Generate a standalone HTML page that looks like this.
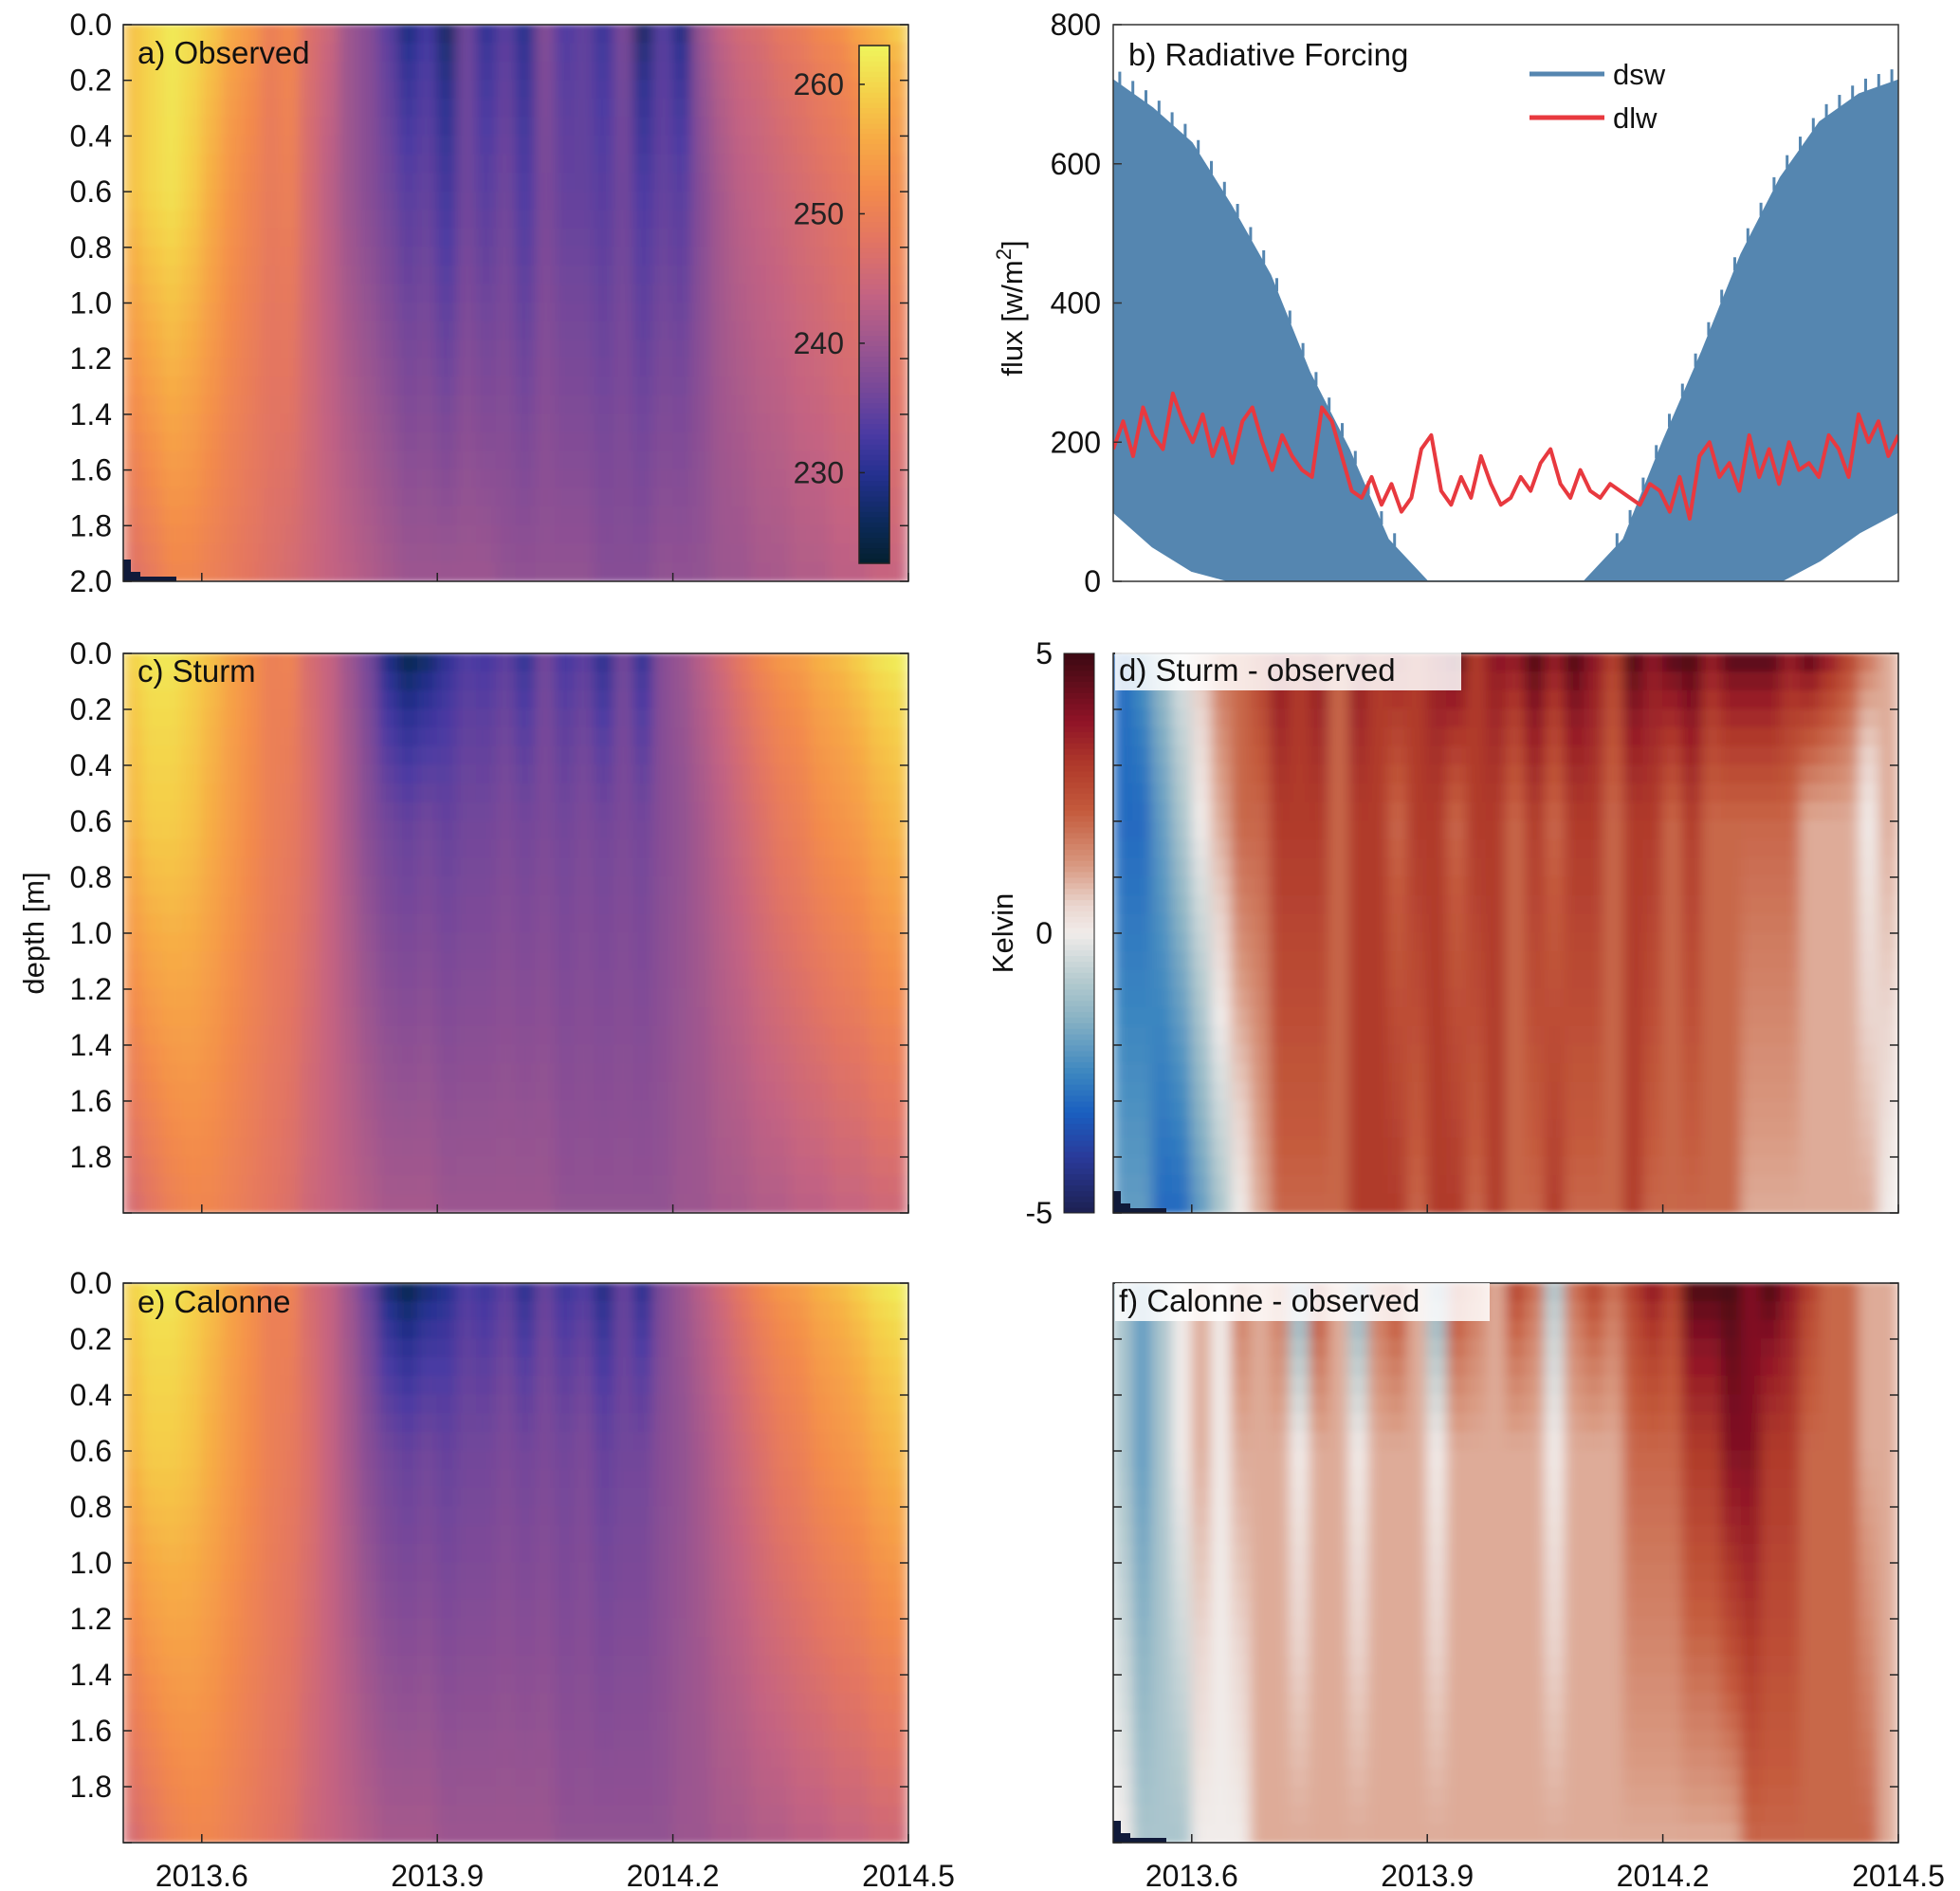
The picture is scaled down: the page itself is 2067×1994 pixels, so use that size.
<!DOCTYPE html>
<html><head><meta charset="utf-8"><style>
html,body{margin:0;padding:0;background:#fff;}
svg{display:block;font-family:"Liberation Sans",Arial,sans-serif;}
</style></head><body>
<svg id="fig" width="2067" height="1994" viewBox="0 0 2067 1994" xmlns="http://www.w3.org/2000/svg">
<defs>
<filter id="blur" x="0" y="0" width="1" height="1"><feGaussianBlur stdDeviation="7 3" edgeMode="duplicate"/></filter>
<clipPath id="clipA"><rect x="130" y="26" width="828" height="587"/></clipPath>
<clipPath id="clipC"><rect x="130" y="689" width="828" height="590"/></clipPath>
<clipPath id="clipE"><rect x="130" y="1353" width="828" height="590"/></clipPath>
<clipPath id="clipD"><rect x="1174" y="689" width="828" height="590"/></clipPath>
<clipPath id="clipF"><rect x="1174" y="1353" width="828" height="590"/></clipPath>
<clipPath id="clipB"><rect x="1174" y="26" width="828" height="587"/></clipPath>
</defs>
</svg>
<script>
// ---------- data ----------
const timeDomain = [2013.5, 2014.5];
const depthDomain = [0, 2];
const xTickValues = [2013.6, 2013.9, 2014.2, 2014.5];
const xTickLabels = ["2013.6", "2013.9", "2014.2", "2014.5"];
const depthTicks = [0,0.2,0.4,0.6,0.8,1.0,1.2,1.4,1.6,1.8,2.0];
const depthTickLabels = ["0.0","0.2","0.4","0.6","0.8","1.0","1.2","1.4","1.6","1.8","2.0"];
const tempTicks = [260,250,240,230];
const tempRange = [223, 263];
const diffRange = [-5, 5];
const fluxTicks = [0,200,400,600,800];

const obsSurf = [258,260,262,261,259,256,254,250,252,247,245,240,238,234,228,232,226,236,230,234,229,238,233,235,231,237,226,234,228,240,244,246,247,249,250,252,253,256,258,260];
const obsMid  = [258,260,261,259,256,253,251,249,250,246,243,240,238,236,234,235,232,236,234,236,233,237,235,235,234,236,233,235,234,238,241,243,244,245,246,247,248,249,250,252];
const obsBot  = [247,249,251,251,250,249,248,247,246,245,244,243,242,241,240,240,240,240,240,239,239,239,239,239,238,238,238,239,239,239,240,240,241,241,242,242,243,243,244,244];

const sturmSurf = [260,262,262,260,258,255,253,250,251,246,244,240,236,228,224,226,230,233,232,234,230,236,232,234,229,236,230,238,240,243,246,249,252,254,255,257,258,260,262,263];
const sturmMid  = [257,259,259,258,256,254,252,250,249,247,244,241,238,236,235,236,235,236,236,237,236,237,236,237,236,237,236,238,239,241,243,245,247,249,250,252,253,254,256,257];
const sturmBot  = [246,248,250,251,251,250,249,248,247,245,244,243,242,241,241,241,240,240,240,240,240,240,239,239,239,239,239,239,240,240,241,241,242,242,243,243,244,244,245,245];

const calSurf = [260,262,262,260,258,255,253,250,251,246,244,240,235,227,224,227,229,233,231,234,229,235,231,233,228,235,229,237,240,243,246,249,252,254,255,257,258,260,262,263];
const calMid  = [257,259,259,258,256,254,252,250,249,247,244,241,238,236,235,236,235,236,236,237,236,237,236,237,235,236,236,238,239,241,243,245,247,249,250,252,253,254,256,257];
const calBot  = [246,248,250,251,251,250,249,248,247,245,244,243,242,241,241,241,240,240,240,240,240,240,239,239,239,239,239,239,240,240,241,241,242,242,243,243,244,244,245,245];

const dSurf = [-3,-2,-1,0,1,2,2,3,4,3,4,2,4,3,4,3,4,5,3,4,4,5,4,5,4,3,5,4,5,5,4,5,5,5,4,5,4,3,2,1];
const dMid  = [-3,-3,-2,-1,0,1,2,2,3,3,3,2,3,3,2,3,3,2,3,3,2,3,2,3,3,2,3,3,2,3,2,2,2,2,2,1,1,1,0,1];
const dBot  = [-2,-2,-3,-3,-2,-1,0,1,2,2,2,2,3,3,3,2,3,3,2,3,2,2,3,2,2,2,3,2,2,2,2,2,1,1,1,1,1,1,1,0];

const fSurf = [-1,-2,-1,0,1,0,2,1,2,-2,3,1,-2,2,3,1,-2,3,2,1,3,2,-1,2,3,2,3,4,3,5,5,5,4,5,4,3,2,2,1,1];
const fMid  = [-1,-2,-1,0,1,0,1,1,1,0,1,1,0,1,1,1,0,1,1,1,1,1,0,1,1,1,2,2,2,3,3,4,4,3,3,2,2,2,1,1];
const fBot  = [0,-1,-1,-1,0,0,0,1,1,1,1,1,1,1,1,1,1,1,1,1,1,1,1,1,1,1,1,1,1,1,1,1,2,2,2,2,2,2,2,1];

const dswMax = [720,680,630,540,440,300,190,60,0,0,0,0,0,60,200,330,470,580,660,700,720,720];
const dswMin = [100,50,15,0,0,0,0,0,0,0,0,0,0,0,0,0,0,0,30,70,100,100];
const dlw = [190,230,180,250,210,190,270,230,200,240,180,220,170,230,250,200,160,210,180,160,
             150,250,230,180,
             130,120,150,110,140,100,120,190,210,130,110,150,120,180,140,110,120,150,130,170,190,140,120,160,130,120,140,130,120,110,140,130,
             100,150,90,180,200,150,170,130,210,150,190,140,200,160,170,150,210,190,150,240,200,230,180,210];

// ---------- helpers ----------
const NS = "http://www.w3.org/2000/svg";
const svg = document.getElementById("fig");
function mk(tag, attrs, parent){ const e=document.createElementNS(NS,tag); for(const k in attrs) e.setAttribute(k,attrs[k]); (parent||svg).appendChild(e); return e; }
function hex(h){return [parseInt(h.slice(1,3),16),parseInt(h.slice(3,5),16),parseInt(h.slice(5,7),16)];}
function cmap(stops,t){ t=Math.max(0,Math.min(1,t)); for(let i=1;i<stops.length;i++){ if(t<=stops[i][0]){ const a=stops[i-1],b=stops[i]; const f=(t-a[0])/(b[0]-a[0]); const ca=hex(a[1]),cb=hex(b[1]); return "rgb("+ca.map((v,j)=>Math.round(v+(cb[j]-v)*f)).join(",")+")"; } } return stops[stops.length-1][1]; }
const thermal = [[0,"#04202f"],[0.08,"#0c2a5a"],[0.17,"#24308f"],[0.25,"#4a3aa3"],[0.33,"#74479a"],[0.42,"#9a5590"],[0.52,"#c46382"],[0.62,"#e27463"],[0.72,"#f38a4c"],[0.82,"#f7ab45"],[0.9,"#f5cd48"],[1,"#eff55c"]];
const balance = [[0,"#1c2050"],[0.1,"#2a3a9a"],[0.18,"#1a5fc0"],[0.25,"#3b86c0"],[0.35,"#8ab3c4"],[0.42,"#b7ccd0"],[0.5,"#f1ecea"],[0.55,"#ead6cf"],[0.62,"#d99a82"],[0.72,"#c45a3c"],[0.8,"#b03a2b"],[0.88,"#8f1327"],[1,"#3c0912"]];

function xScale(x0,x1){ return t => x0 + (t-timeDomain[0])/(timeDomain[1]-timeDomain[0])*(x1-x0); }
function yScale(y0,y1,d){ return v => y0 + (v-d[0])/(d[1]-d[0])*(y1-y0); }

function profile(s,m,b,z){ if(z<=0.6) return s+(m-s)*Math.pow(z/0.6,0.6); return m+(b-m)*((z-0.6)/1.4); }

function heatmap(name,x0,y0,x1,y1,surf,mid,bot,stops,range,clip,corner){
  const g = mk("g",{"clip-path":"url(#"+clip+")"});
  
  
  const inner = mk("g",{filter:"url(#blur)"},g);
  const xs = xScale(x0,x1), ys = yScale(y0,y1,depthDomain);
  const n = surf.length, dt=(timeDomain[1]-timeDomain[0])/n, rows=30, dz=2/rows;
  for(let i=0;i<n;i++){
    const t=timeDomain[0]+i*dt;
    for(let r=0;r<rows;r++){
      const z=(r+0.5)*dz;
      const v=profile(surf[i],mid[i],bot[i],z);
      const c=mk("rect",{x:xs(t)-0.5,y:ys(r*dz)-0.5,width:xs(t+dt)-xs(t)+1,height:ys((r+1)*dz)-ys(r*dz)+1,fill:cmap(stops,(v-range[0])/(range[1]-range[0]))},inner);
      
      
    }
  }
  if(corner){
    [[0,23,8],[8,10,10],[18,5,38]].forEach(s=>{
      const cr=mk("rect",{x:x0+s[0],y:y1-s[1],width:s[2],height:s[1],fill:"#101a3a"},g);
      
      
    });
  }
}

function frame(name,x0,y0,x1,y1){
  const r=mk("rect",{x:x0,y:y0,width:x1-x0,height:y1-y0,fill:"none",stroke:"#222",'stroke-width':1.5});
  
  
}
function depthAxis(x0,y0,x1,y1,labels,skipLast){
  const ys=yScale(y0,y1,depthDomain);
  depthTicks.forEach((d,i)=>{
    mk("line",{x1:x0,x2:x0+9,y1:ys(d),y2:ys(d),stroke:"#222","stroke-width":1.5});
    mk("line",{x1:x1,x2:x1-9,y1:ys(d),y2:ys(d),stroke:"#222","stroke-width":1.5});
    if(labels && !(skipLast && i===depthTicks.length-1)){
      const t=mk("text",{x:x0-12,y:ys(d)+11,"text-anchor":"end","font-size":32,fill:"#111"});
      t.textContent=depthTickLabels[i];
      
      
    }
  });
}
function timeAxis(x0,x1,y1,labels){
  const xs=xScale(x0,x1);
  xTickValues.forEach((v,i)=>{
    mk("line",{x1:xs(v),x2:xs(v),y1:y1,y2:y1-9,stroke:"#222","stroke-width":1.5});
    if(labels){
      const t=mk("text",{x:xs(v),y:y1+46,"text-anchor":"middle","font-size":32,fill:"#111"});
      t.textContent=xTickLabels[i];
      
      
    }
  });
}
function title(txt,x,y,bg,w){
  if(bg){ const b=mk("rect",{x:x-4,y:y-30,width:w,height:40,fill:"#fff","fill-opacity":0.85});   }
  const t=mk("text",{x:x,y:y,"font-size":33,fill:"#111"});
  t.textContent=txt;
  
  
}

// ---------- panels a, c, e ----------
heatmap("observed-heatmap",130,26,958,613,obsSurf,obsMid,obsBot,thermal,tempRange,"clipA",true);
heatmap("sturm-heatmap",130,689,958,1279,sturmSurf,sturmMid,sturmBot,thermal,tempRange,"clipC",false);
heatmap("calonne-heatmap",130,1353,958,1943,calSurf,calMid,calBot,thermal,tempRange,"clipE",false);
heatmap("sturm-diff-heatmap",1174,689,2002,1279,dSurf,dMid,dBot,balance,diffRange,"clipD",true);
heatmap("calonne-diff-heatmap",1174,1353,2002,1943,fSurf,fMid,fBot,balance,diffRange,"clipF",true);

[[26,613,false],[689,1279,true],[1353,1943,true]].forEach((p,i)=>{
  depthAxis(130,p[0],958,p[1],true,p[2]);
  timeAxis(130,958,p[1],i===2);
  frame("left-panel-frame",130,p[0],958,p[1]);
});
[[689,1279],[1353,1943]].forEach((p,i)=>{
  depthAxis(1174,p[0],2002,p[1],false,false);
  timeAxis(1174,2002,p[1],i===1);
  frame("diff-panel-frame",1174,p[0],2002,p[1]);
});

// colorbar a
(function(){
  const x0=906,x1=938,y0=48,y1=594;
  const ys=yScale(y1,y0,tempRange);
  const g=mk("g",{});
  
  
  for(let i=0;i<100;i++){ const v=tempRange[0]+(i+0.5)*(tempRange[1]-tempRange[0])/100; mk("rect",{x:x0,y:ys(tempRange[0]+(i+1)*0.4)-0.5,width:x1-x0,height:ys(tempRange[0]+i*0.4)-ys(tempRange[0]+(i+1)*0.4)+1,fill:cmap(thermal,(v-tempRange[0])/(tempRange[1]-tempRange[0]))},g); }
  mk("rect",{x:x0,y:y0,width:x1-x0,height:y1-y0,fill:"none",stroke:"#222","stroke-width":1.5},g);
  tempTicks.forEach(v=>{
    mk("line",{x1:x0,x2:x0+6,y1:ys(v),y2:ys(v),stroke:"#222","stroke-width":1.5},g);
    const t=mk("text",{x:890,y:ys(v)+11,"text-anchor":"end","font-size":32,fill:"#222"},g);
    t.textContent=v;
    
    
  });
})();
// colorbar d
(function(){
  const x0=1122,x1=1154,y0=689,y1=1279;
  const ys=yScale(y1,y0,diffRange);
  const g=mk("g",{});
  
  
  for(let i=0;i<100;i++){ const a=diffRange[0]+i*0.1,b=a+0.1; mk("rect",{x:x0,y:ys(b)-0.5,width:x1-x0,height:ys(a)-ys(b)+1,fill:cmap(balance,(a+0.05-diffRange[0])/10)},g); }
  mk("rect",{x:x0,y:y0,width:x1-x0,height:y1-y0,fill:"none",stroke:"#222","stroke-width":1},g);
  [[5,"5"],[0,"0"],[-5,"-5"]].forEach(p=>{
    const t=mk("text",{x:1110,y:ys(p[0])+11,"text-anchor":"end","font-size":32,fill:"#111"},g);
    t.textContent=p[1];
    
    
  });
  const k=mk("text",{x:0,y:0,"text-anchor":"middle","font-size":31,fill:"#111",transform:"translate(1068,984) rotate(-90)"},g);
  k.textContent="Kelvin";
  
  
})();

// ---------- panel b ----------
(function(){
  const x0=1174,x1=2002,y0=26,y1=613;
  const xs=xScale(x0,x1), ys=yScale(y1,y0,[0,800]);
  const n=dswMax.length, step=(timeDomain[1]-timeDomain[0])/(n-2);
  const g=mk("g",{"clip-path":"url(#clipB)"});
  
  
  let pts=[];
  for(let i=0;i<n;i++) pts.push(xs(timeDomain[0]+i*step)+","+ys(dswMax[i]));
  for(let i=n-1;i>=0;i--) pts.push(xs(timeDomain[0]+i*step)+","+ys(dswMin[i]));
  const poly=mk("polygon",{points:pts.join(" "),fill:"#5586b0",stroke:"#5586b0","stroke-width":2},g);
  
  
  for(let i=0;i<n-1;i++){
    for(let k=0;k<6;k++){
      const t=timeDomain[0]+(i+k/6)*step, f=k/6, v=dswMax[i]+(dswMax[i+1]-dswMax[i])*f;
      if(v>40 && k%2===1){ const l=mk("line",{x1:xs(t),x2:xs(t),y1:ys(v),y2:ys(v)-14,stroke:"#5586b0","stroke-width":3},g);   }
    }
  }
  const dstep=(timeDomain[1]-timeDomain[0])/(dlw.length-1);
  const lp=dlw.map((v,i)=>xs(timeDomain[0]+i*dstep)+","+ys(v)).join(" ");
  const line=mk("polyline",{points:lp,fill:"none",stroke:"#e8393f","stroke-width":4,"stroke-linejoin":"round"},g);
  
  
  mk("rect",{x:x0,y:y0,width:x1-x0,height:y1-y0,fill:"none",stroke:"#333","stroke-width":1.5});
  fluxTicks.forEach(v=>{
    mk("line",{x1:x0,x2:x0+9,y1:ys(v),y2:ys(v),stroke:"#333","stroke-width":1.5});
    const t=mk("text",{x:1161,y:ys(v)+11,"text-anchor":"end","font-size":32,fill:"#111"});
    t.textContent=v;
    
    
  });
  const yl=mk("text",{x:0,y:0,"text-anchor":"middle","font-size":31,fill:"#111",transform:"translate(1078,325) rotate(-90)"});
  yl.innerHTML='flux [w/m<tspan dy="-12" font-size="22">2</tspan><tspan dy="12">]</tspan>';
  
  
  [["dsw","#5586b0",78],["dlw","#e8393f",124]].forEach(e=>{
    const gl=mk("g",{});
    
    
    mk("line",{x1:1613,x2:1692,y1:e[2],y2:e[2],stroke:e[1],"stroke-width":5},gl);
    const t=mk("text",{x:1701,y:e[2]+11,"font-size":31,fill:"#111"},gl);
    t.textContent=e[0];
  });
})();

// titles & labels
title("a) Observed",145,67,false);
title("b) Radiative Forcing",1190,69,false);
title("c) Sturm",145,719,false);
title("d) Sturm - observed",1180,718,true,365);
title("e) Calonne",145,1384,false);
title("f) Calonne - observed",1180,1383,true,395);
const dl=mk("text",{x:0,y:0,"text-anchor":"middle","font-size":31,fill:"#111",transform:"translate(46,984) rotate(-90)"});
dl.textContent="depth [m]";


</script>
</body></html>
